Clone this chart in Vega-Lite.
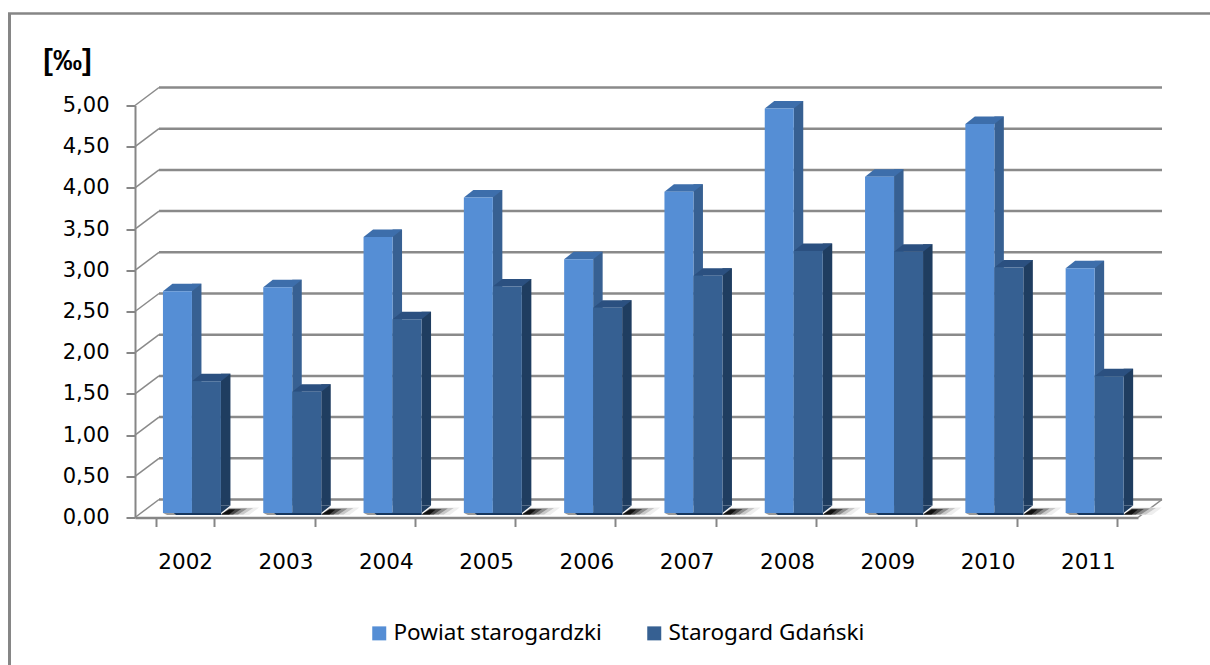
{
"$schema":"https://vega.github.io/schema/vega-lite/v6.json",
"autosize":"none","width":1003,"height":412,
"padding":{"left":135,"top":105.5,"right":72,"bottom":147.5},
"background":"#ffffff",
"config":{"view":{"stroke":null}},
"datasets":{
"bars":[
{"year":"2002","series":"Powiat starogardzki","v":2.69},{"year":"2003","series":"Powiat starogardzki","v":2.74},{"year":"2004","series":"Powiat starogardzki","v":3.35},{"year":"2005","series":"Powiat starogardzki","v":3.83},{"year":"2006","series":"Powiat starogardzki","v":3.08},{"year":"2007","series":"Powiat starogardzki","v":3.90},{"year":"2008","series":"Powiat starogardzki","v":4.91},{"year":"2009","series":"Powiat starogardzki","v":4.08},{"year":"2010","series":"Powiat starogardzki","v":4.72},{"year":"2011","series":"Powiat starogardzki","v":2.97},
{"year":"2002","series":"Starogard Gdański","v":1.60},{"year":"2003","series":"Starogard Gdański","v":1.47},{"year":"2004","series":"Starogard Gdański","v":2.35},{"year":"2005","series":"Starogard Gdański","v":2.75},{"year":"2006","series":"Starogard Gdański","v":2.49},{"year":"2007","series":"Starogard Gdański","v":2.88},{"year":"2008","series":"Starogard Gdański","v":3.18},{"year":"2009","series":"Starogard Gdański","v":3.17},{"year":"2010","series":"Starogard Gdański","v":2.98},{"year":"2011","series":"Starogard Gdański","v":1.66}
],
"grid":[{"g":0},{"g":0.5},{"g":1},{"g":1.5},{"g":2},{"g":2.5},{"g":3},{"g":3.5},{"g":4},{"g":4.5},{"g":5}]
},
"resolve":{"scale":{"x":"independent","y":"independent"}},
"layer":[
{"data":{"values":[{"a":0}]},"mark":{"type":"rule","color":"#868686","strokeWidth":3},
 "encoding":{"x":{"datum":0,"type":"quantitative","scale":{"domain":[0,1],"range":[-125.5,1075]},"axis":null},"y":{"datum":0,"type":"quantitative","scale":{"domain":[0,1],"range":[-92,559.5]},"axis":null},"y2":{"datum":1}}},
{"data":{"values":[{"a":0}]},"mark":{"type":"rule","color":"#868686","strokeWidth":2.5},
 "encoding":{"x":{"datum":0,"type":"quantitative","scale":{"domain":[0,1],"range":[-127,1075]},"axis":null},"x2":{"datum":1},"y":{"datum":0,"type":"quantitative","scale":{"domain":[0,1],"range":[-92,559.5]},"axis":null}}},
{"data":{"name":"grid"},"mark":{"type":"rule","color":"#8a8a8a","strokeWidth":2.5,"yOffset":-18},
 "encoding":{"x":{"datum":0,"type":"quantitative","scale":{"domain":[0,1],"range":[24,1027]},"axis":null},"x2":{"datum":1},"y":{"field":"g","type":"quantitative","scale":{"domain":[0,5],"range":[412,0]},"axis":null}}},
{"data":{"name":"grid"},"mark":{"type":"point","filled":false,"opacity":1,"stroke":"#8a8a8a","strokeWidth":1.5,"size":4,"shape":"M0,0L24,-18"},
 "encoding":{"x":{"datum":0,"type":"quantitative","scale":{"domain":[0,1],"range":[0,1003]},"axis":null},"y":{"field":"g","type":"quantitative","scale":{"domain":[0,5],"range":[412,0]},"axis":null}}},
{"data":{"values":[{"a":0}]},"mark":{"type":"point","filled":false,"opacity":1,"stroke":"#8a8a8a","strokeWidth":1.5,"size":4,"shape":"M0,0L24,-18"},
 "encoding":{"x":{"datum":1,"type":"quantitative","scale":{"domain":[0,1],"range":[0,1003]},"axis":null},"y":{"datum":0,"type":"quantitative","scale":{"domain":[0,5],"range":[412,0]},"axis":null}}},
{"data":{"name":"bars"},"transform":[{"filter":"datum.series==='Starogard Gdański'"}],
 "layer":[
 {"mark":{"type":"point","filled":true,"opacity":1,"size":4,"stroke":null,"fill":"#eeeeee","shape":"M36,-2.5L44,-10L74,-10L64,-2.5Z"}},
 {"mark":{"type":"point","filled":true,"opacity":1,"size":4,"stroke":null,"fill":"#c8c8c8","shape":"M36,-3L44,-9.5L68,-9.5L58,-3Z"}},
 {"mark":{"type":"point","filled":true,"opacity":1,"size":4,"stroke":null,"fill":"#8c8c8c","shape":"M36,-3L44,-9L62,-9L53,-3Z"}},
 {"mark":{"type":"point","filled":true,"opacity":1,"size":4,"stroke":null,"fill":"#484848","shape":"M36,-3L44,-8.5L56,-8.5L48,-3Z"}},
 {"mark":{"type":"point","filled":true,"opacity":1,"size":4,"stroke":null,"fill":"#111111","shape":"M36,-3L44,-8L50,-8L44,-3Z"}},
 {"mark":{"type":"point","filled":true,"opacity":1,"size":4,"stroke":null,"fill":"#999999","shape":"M-22,-4.5L-8,-4.5L-8,-2.5L-18,-2.5Z"}},
 {"mark":{"type":"point","filled":true,"opacity":1,"size":4,"stroke":null,"fill":"#17375E","shape":"M-12,-5L36,-5L36,-2.5L-9,-2.5Z"}}
 ],
 "encoding":{"x":{"field":"year","type":"nominal","scale":{"type":"band","paddingInner":0.42,"paddingOuter":0.21,"range":[0,1003]},"axis":null},"y":{"datum":0,"type":"quantitative","scale":{"domain":[0,5],"range":[412,0]},"axis":null}}},
{"data":{"name":"bars"},"transform":[{"filter":"datum.series==='Powiat starogardzki'"}],
 "layer":[
 {"mark":{"type":"bar","width":9.5,"color":"#376092","xOffset":11.55,"yOffset":-12,"y2Offset":-12}},
 {"mark":{"type":"point","filled":true,"opacity":1,"size":4,"stroke":null,"fill":"#3D6EAB","shape":"M-22.2,-4.5L6.8,-4.5L16.3,-12L-12.7,-12Z"}},
 {"mark":{"type":"bar","width":29,"xOffset":-7.7,"yOffset":-4.5,"y2Offset":-4.5},
  "encoding":{"color":{"field":"series","type":"nominal","scale":{"domain":["Powiat starogardzki","Starogard Gdański"],"range":["#558ED5","#366092"]},
   "legend":{"orient":"none","legendX":233,"legendY":516.5,"direction":"horizontal","columns":2,"title":null,"symbolType":"square","symbolSize":196,"symbolStrokeWidth":0,"symbolOpacity":1,"labelFont":"Noto Sans","labelFontSize":22.5,"labelColor":"#000000","labelOffset":3,"labelLimit":400,"columnPadding":41}}}}
 ],
 "encoding":{"x":{"field":"year","type":"nominal","scale":{"type":"band","paddingInner":0.42,"paddingOuter":0.21,"range":[0,1003]},"axis":null},"y":{"field":"v","type":"quantitative","scale":{"domain":[0,5],"range":[412,0]},"axis":null}}},
{"data":{"name":"bars"},"transform":[{"filter":"datum.series==='Starogard Gdański'"}],
 "layer":[
 {"mark":{"type":"bar","width":9.5,"color":"#1F3D60","xOffset":40.55,"yOffset":-12,"y2Offset":-12}},
 {"mark":{"type":"point","filled":true,"opacity":1,"size":4,"stroke":null,"fill":"#1F3D60","shape":"M35.8,-4.5L35.8,-12L45.3,-12Z"},"encoding":{"y":{"datum":0,"type":"quantitative"}}},
 {"mark":{"type":"point","filled":true,"opacity":1,"size":4,"stroke":null,"fill":"#2B5080","shape":"M6.8,-4.5L35.8,-4.5L45.3,-12L16.3,-12Z"}},
 {"mark":{"type":"bar","width":29,"xOffset":21.3,"yOffset":-4.5,"y2Offset":-4.5},
  "encoding":{"color":{"field":"series","type":"nominal","scale":{"domain":["Powiat starogardzki","Starogard Gdański"],"range":["#558ED5","#366092"]},"legend":null}}}
 ],
 "encoding":{"x":{"field":"year","type":"nominal","scale":{"type":"band","paddingInner":0.42,"paddingOuter":0.21,"range":[0,1003]},"axis":null},"y":{"field":"v","type":"quantitative","scale":{"domain":[0,5],"range":[412,0]},"axis":null}}},
{"data":{"name":"bars"},"mark":{"type":"tick","opacity":0},
 "encoding":{"x":{"field":"year","type":"nominal","scale":{"type":"band","paddingInner":0.42,"paddingOuter":0.21,"range":[0,1003]},
   "axis":{"title":null,"labelAngle":0,"tickBand":"extent","tickSize":9,"tickWidth":2,"tickColor":"#868686","domainColor":"#868686","domainWidth":2.5,"labelFont":"DejaVu Sans","labelFontSize":21.5,"labelColor":"#000000","labelPadding":25}},
  "y":{"field":"v","type":"quantitative","scale":{"domain":[0,5],"range":[412,0]},
   "axis":{"title":"[‰]","titleAngle":0,"titleX":-68,"titleY":-36,"titleFont":"Liberation Sans","titleFontWeight":"bold","titleFontSize":29,"titleColor":"#000000","titleAlign":"center","titleBaseline":"alphabetic","values":[0,0.5,1,1.5,2,2.5,3,3.5,4,4.5,5],"format":".2f","labelExpr":"replace(format(datum.value,'.2f'),'.',',')","grid":false,"tickSize":9,"tickWidth":2,"tickColor":"#868686","domainColor":"#868686","domainWidth":2,"labelFont":"DejaVu Sans","labelFontSize":21,"labelColor":"#000000","labelPadding":17}}}}
]
}
